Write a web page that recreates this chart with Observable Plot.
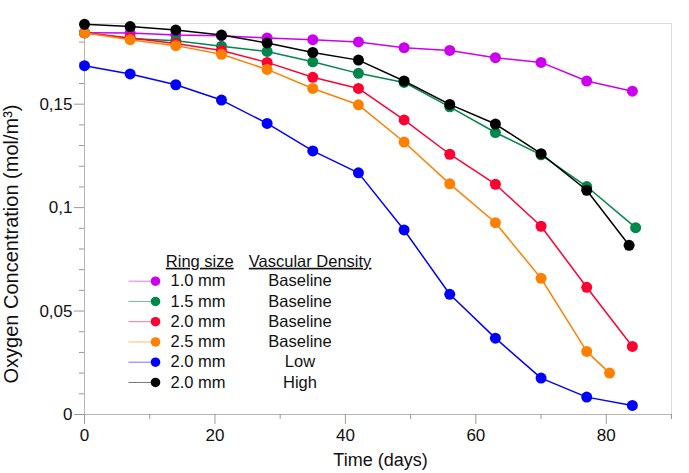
<!DOCTYPE html>
<html>
<head>
<meta charset="utf-8">
<script src="https://cdn.jsdelivr.net/npm/d3@7"></script>
<script src="https://cdn.jsdelivr.net/npm/@observablehq/plot@0.6"></script>
<style>
  html, body { margin: 0; padding: 0; background: #fff; }
  #chart { width: 689px; height: 473px; }
</style>
</head>
<body>
<div id="chart"></div>
<script>
// ---- Data ----
const ringSizes = ["1.0 mm", "1.5 mm", "2.0 mm", "2.5 mm", "2.0 mm", "2.0 mm"];
const densities = ["Baseline", "Baseline", "Baseline", "Baseline", "Low", "High"];
const colors = ["#cc00ee", "#00874a", "#ff0033", "#ff8000", "#0000ff", "#000000"];

const days1 = [0, 7, 14, 21, 28, 35, 42, 49, 56, 63, 70, 77, 84];
const days2 = [0, 7, 14, 21, 28, 35, 42, 49, 56, 63, 70, 77, 84.5];
const days3 = [0, 7, 14, 21, 28, 35, 42, 49, 56, 63, 70, 77, 84];
const days4 = [0, 7, 14, 21, 28, 35, 42, 49, 56, 63, 70, 77, 80.5];
const days5 = [0, 7, 14, 21, 28, 35, 42, 49, 56, 63, 70, 77, 84];
const days6 = [0, 7, 14, 21, 28, 35, 42, 49, 56, 63, 70, 77, 83.5];

const ring10 = [0.1845, 0.1844, 0.1834, 0.1831, 0.1820, 0.1812, 0.1801, 0.1773, 0.1760, 0.1725, 0.1702, 0.1612, 0.1563];
const ring15 = [0.1845, 0.1818, 0.1807, 0.1780, 0.1755, 0.1705, 0.1649, 0.1605, 0.1487, 0.1363, 0.1255, 0.1102, 0.0903];
const ring20 = [0.1845, 0.1820, 0.1793, 0.1759, 0.1702, 0.1630, 0.1576, 0.1424, 0.1258, 0.1113, 0.0910, 0.0615, 0.0329];
const ring25 = [0.1845, 0.1812, 0.1783, 0.1741, 0.1668, 0.1576, 0.1497, 0.1317, 0.1115, 0.0927, 0.0658, 0.0305, 0.0200];
const ring20Low = [0.1686, 0.1646, 0.1594, 0.1520, 0.1407, 0.1274, 0.1168, 0.0892, 0.0581, 0.0369, 0.0176, 0.0084, 0.0044];
const ring20High = [0.1886, 0.1875, 0.1858, 0.1834, 0.1796, 0.1750, 0.1713, 0.1612, 0.1499, 0.1404, 0.1261, 0.1084, 0.0818];

const xTicks = [0, 20, 40, 60, 80];
const xMinorTicks = [10, 30, 50, 70, 90];
const yTicks = [0, 0.05, 0.1, 0.15];
const yTickLabels = ["0", "0,05", "0,1", "0,15"];
const yMinorTicks = [0.01, 0.02, 0.03, 0.04, 0.06, 0.07, 0.08, 0.09, 0.11, 0.12, 0.13, 0.14, 0.16, 0.17, 0.18];

const xTitle = "Time (days)";
const yTitle = "Oxygen Concentration (mol/m³)";
const legendHeaders = ["Ring size", "Vascular Density"];

// ---- Build series table ----
const daysList = [days1, days2, days3, days4, days5, days6];
const valuesList = [ring10, ring15, ring20, ring25, ring20Low, ring20High];
const series = valuesList.map((vals, i) => ({
  color: colors[i],
  rows: vals.map((v, j) => ({ day: daysList[i][j], value: v }))
}));

const font = "'Liberation Sans', Arial, Helvetica, sans-serif";
const lineSym = { draw(ctx) { ctx.moveTo(-27, 0); ctx.lineTo(0, 0); } };

const dataMarks = series.flatMap(s => [
  Plot.line(s.rows, { x: "day", y: "value", stroke: s.color, strokeWidth: 1.5 }),
  Plot.dot(s.rows, { x: "day", y: "value", fill: s.color, r: 5.5 })
]);

const legendMarks = [
  Plot.text([legendHeaders[0]], { text: d => d, frameAnchor: "top-left", dx: 81.3, dy: 238, textAnchor: "start", lineAnchor: "middle", fontSize: 16.5, fill: "#111" }),
  Plot.text([legendHeaders[1]], { text: d => d, frameAnchor: "top-left", dx: 164.3, dy: 238, textAnchor: "start", lineAnchor: "middle", fontSize: 16.5, fill: "#111" }),
  ...colors.flatMap((c, i) => {
    const dy = 257.7 + 20.25 * i;
    return [
      Plot.dot([0], { frameAnchor: "top-left", dx: 71, dy, symbol: lineSym, stroke: c, strokeWidth: 1, strokeOpacity: 0.55, fill: "none" }),
      Plot.dot([0], { frameAnchor: "top-left", dx: 71, dy, r: 4.8, fill: c }),
      Plot.text([ringSizes[i]], { text: d => d, frameAnchor: "top-left", dx: 86, dy, textAnchor: "start", lineAnchor: "middle", fontSize: 16.5, fill: "#111" }),
      Plot.text([densities[i]], { text: d => d, frameAnchor: "top-left", dx: 215.5, dy, textAnchor: "middle", lineAnchor: "middle", fontSize: 16.5, fill: "#111" })
    ];
  })
];

const chart = Plot.plot({
  width: 689,
  height: 473,
  marginLeft: 84,
  marginRight: 18,
  marginTop: 23,
  marginBottom: 59,
  style: { fontFamily: font, background: "#fff", overflow: "visible" },
  x: { domain: [0, 90] },
  y: { domain: [0, 0.189] },
  marks: [
    Plot.frame({ stroke: "#dcdcdc" }),
    Plot.ruleY([0], { stroke: "#b5b5b5" }),
    Plot.ruleX([0], { stroke: "#b5b5b5" }),
    Plot.axisX(xMinorTicks, { tickSize: 5, tickFormat: () => "", stroke: "#999", label: null }),
    Plot.axisX(xTicks, { tickSize: 10, tickPadding: 4, stroke: "#999", fill: "#111", fontSize: 17, label: null }),
    Plot.axisY(yMinorTicks, { tickSize: 5, tickFormat: () => "", stroke: "#999", label: null }),
    Plot.axisY(yTicks, { tickSize: 10, tickPadding: 2, stroke: "#999", fill: "#111", fontSize: 17, label: null,
      tickFormat: d => yTickLabels[yTicks.indexOf(d)] }),
    Plot.text([xTitle], { text: d => d, frameAnchor: "bottom", dx: 2.5, dy: 46, textAnchor: "middle", lineAnchor: "middle", fontSize: 18, fill: "#111" }),
    Plot.text([yTitle], { text: d => d, frameAnchor: "left", rotate: -90, dx: -73, dy: 25, textAnchor: "middle", lineAnchor: "middle", fontSize: 20, fill: "#111" }),
    ...dataMarks,
    ...legendMarks
  ]
});

d3.select(chart).selectAll("text")
  .filter(function () { return legendHeaders.includes(this.textContent); })
  .style("text-decoration", "underline");

document.getElementById("chart").appendChild(chart);
</script>
</body>
</html>
